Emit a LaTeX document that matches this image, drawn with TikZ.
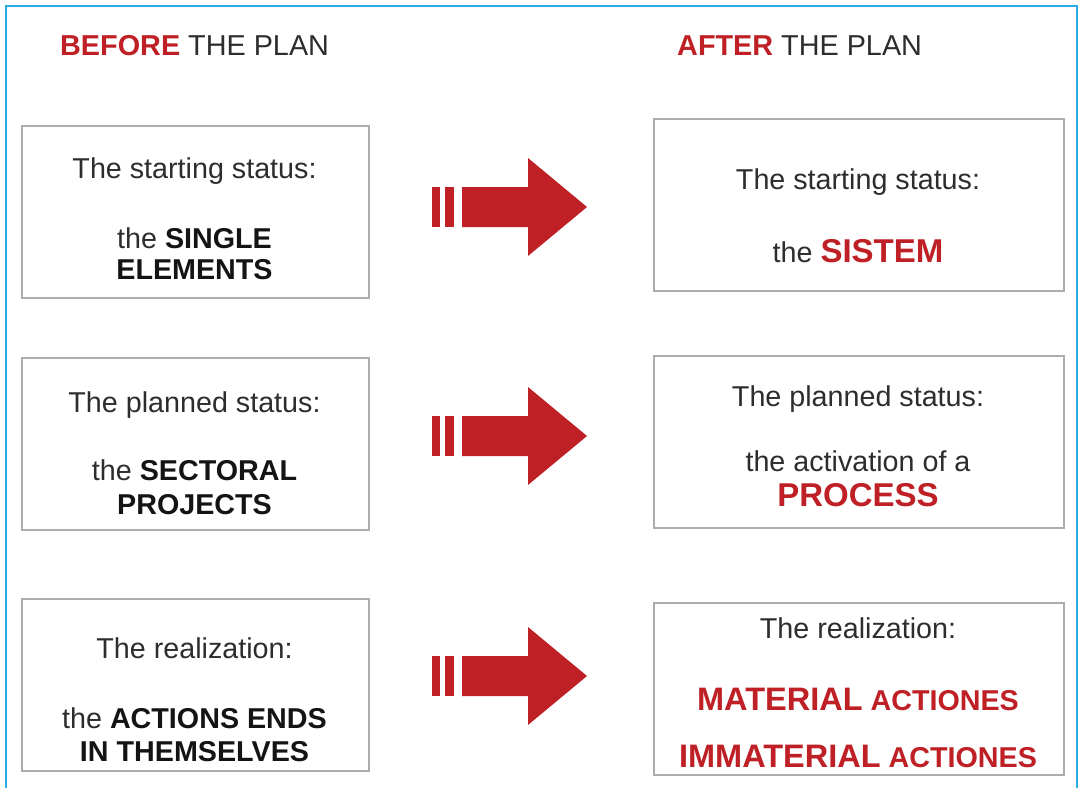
\documentclass[tikz,border=0pt]{standalone}
\usepackage{fontspec}
\setmainfont{Liberation Sans}
\definecolor{myred}{RGB}{190,32,38}
\definecolor{frameblue}{RGB}{45,172,228}
\definecolor{boxgray}{RGB}{172,172,172}
\definecolor{txtgray}{RGB}{45,45,45}
\definecolor{boldblack}{RGB}{20,20,20}
\tikzset{
  pics/fatarrow/.style={code={
    \fill[myred] (0,-20) rectangle (8,20);
    \fill[myred] (13,-20) rectangle (22,20);
    \fill[myred] (30,-20) -- (96,-20) -- (96,-49) -- (155,0) -- (96,49) -- (96,20) -- (30,20) -- cycle;
  }}
}
\begin{document}
\begin{tikzpicture}[x=1pt,y=-1pt,
  panel/.style={draw=boxgray,line width=1.6pt,fill=white,inner sep=0pt,anchor=north west,minimum height=172pt},
  lpanel/.style={panel,minimum width=347pt},
  rpanel/.style={panel,minimum width=410pt},
  txt/.style={anchor=base,inner sep=0pt,font=\fontsize{28.7}{34}\selectfont,text=txtgray},
  head/.style={anchor=base west,inner sep=0pt,font=\fontsize{28.8}{34}\selectfont,text=txtgray},
]
\clip (0,0) rectangle (1081,787);
\fill[white] (0,0) rectangle (1081,787);
\draw[frameblue,line width=2pt] (6,800) -- (6,6) -- (1077,6) -- (1077,800);

% headers
\node[head] (hb) at (60,55) {{\color{myred}\bfseries BEFORE} THE PLAN};
\node[head] (ha) at (677,55) {{\color{myred}\bfseries AFTER} THE PLAN};

% left panels
\node[lpanel] (L1) at (21,125) {};
\node[lpanel] (L2) at (21,357) {};
\node[lpanel] (L3) at (21,598) {};
% right panels
\node[rpanel] (R1) at (653,118) {};
\node[rpanel] (R2) at (653,355) {};
\node[rpanel] (R3) at (653,602) {};

% left texts
\node[txt] (l1a) at (194.5,178) {The starting status:};
\node[txt] (l1b) at (194.5,248) {the {\color{boldblack}\bfseries SINGLE}};
\node[txt] (l1c) at (194.5,279) {\color{boldblack}\bfseries ELEMENTS};

\node[txt] (l2a) at (194.5,412) {The planned status:};
\node[txt] (l2b) at (194.5,480) {the {\color{boldblack}\bfseries SECTORAL}};
\node[txt] (l2c) at (194.5,514) {\color{boldblack}\bfseries PROJECTS};

\node[txt] (l3a) at (194.5,658) {The realization:};
\node[txt] (l3b) at (194.5,728) {the {\color{boldblack}\bfseries ACTIONS ENDS}};
\node[txt] (l3c) at (194.5,761) {\color{boldblack}\bfseries IN THEMSELVES};

% right texts
\node[txt] (r1a) at (858,189) {The starting status:};
\node[txt] (r1b) at (858,262) {the {\color{myred}\bfseries\fontsize{33}{38}\selectfont SISTEM}};

\node[txt] (r2a) at (858,406) {The planned status:};
\node[txt] (r2b) at (858,471) {the activation of a};
\node[txt] (r2c) at (858,506) {\color{myred}\bfseries\fontsize{33}{38}\selectfont PROCESS};

\node[txt] (r3a) at (858,638) {The realization:};
\node[txt] (r3b) at (858,710) {\color{myred}\bfseries{\fontsize{32.5}{38}\selectfont MATERIAL} ACTIONES};
\node[txt] (r3c) at (858,767) {\color{myred}\bfseries{\fontsize{32.5}{38}\selectfont IMMATERIAL} ACTIONES};

% arrows
\coordinate (a1) at (432,207);
\coordinate (a2) at (432,436);
\coordinate (a3) at (432,676);
\pic at (a1) {fatarrow};
\pic at (a2) {fatarrow};
\pic at (a3) {fatarrow};
\end{tikzpicture}
\end{document}
